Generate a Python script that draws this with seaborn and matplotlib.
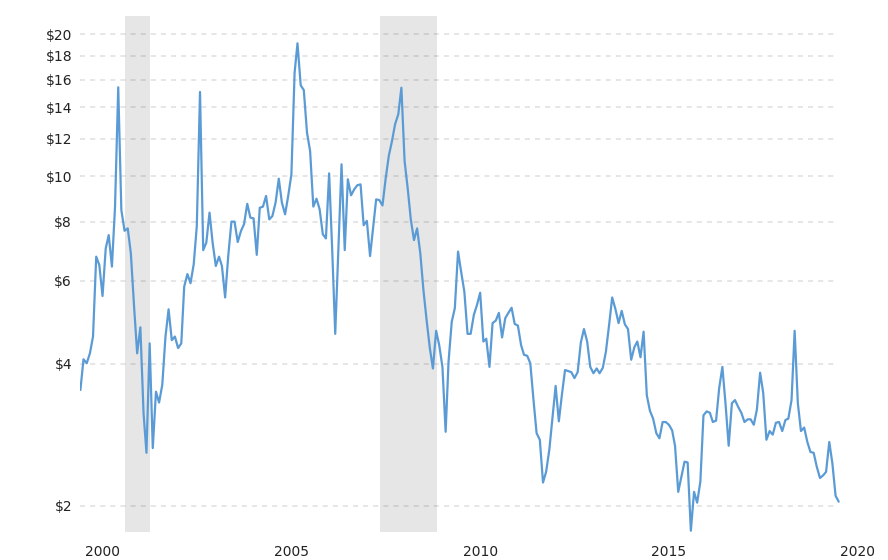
import pandas as pd
import numpy as np
import matplotlib
matplotlib.use("Agg")
import matplotlib.pyplot as plt
import matplotlib.dates as mdates
from matplotlib.ticker import NullLocator, FuncFormatter
import seaborn as sns

# Monthly price ($), Jun 1999 onwards
prices_1999_2002 = [3.52, 4.09, 4.01, 4.21, 4.57, 6.75, 6.48, 5.57, 7.03, 7.50, 6.43, 8.62,
                    15.44, 8.48, 7.66, 7.75, 6.86, 5.30, 4.21, 4.78, 3.14, 2.59, 4.42, 2.65,
                    3.49, 3.31, 3.61, 4.57, 5.22, 4.49, 4.57, 4.32, 4.42, 5.83, 6.20, 5.93]
prices_2002_2005 = [6.50, 7.84, 15.09, 6.97, 7.23, 8.37, 7.23, 6.45, 6.75, 6.45, 5.53, 6.77,
                    8.01, 8.01, 7.25, 7.65, 7.91, 8.74, 8.17, 8.14, 6.81, 8.57, 8.62, 9.08,
                    8.10, 8.23, 8.79, 9.88, 8.79, 8.30, 9.08, 10.09, 16.58, 19.14, 15.59]
prices_2005_2008 = [15.23, 12.37, 11.31, 8.62, 8.96, 8.51, 7.53, 7.38, 10.14, 6.86, 4.63, 7.01,
                    10.60, 6.97, 9.85, 9.11, 9.38, 9.57, 9.61, 7.87, 8.04, 6.77, 7.72, 8.93,
                    8.90, 8.67, 9.85, 11.04, 11.87, 12.89, 13.53, 15.41, 10.77, 9.38, 8.10]
prices_2008_2011 = [7.32, 7.75, 6.86, 5.74, 4.95, 4.32, 3.91, 4.70, 4.38, 3.94, 2.87, 4.04,
                    4.91, 5.25, 6.92, 6.27, 5.69, 4.63, 4.63, 5.08, 5.33, 5.66, 4.46, 4.52,
                    3.94, 4.88, 4.94, 5.13, 4.55, 5.00, 5.13, 5.26, 4.86, 4.82]
prices_2011_2014 = [4.38, 4.18, 4.16, 4.01, 3.35, 2.85, 2.76, 2.24, 2.36, 2.63, 3.06, 3.59,
                    3.02, 3.43, 3.88, 3.86, 3.84, 3.73, 3.84, 4.44, 4.74, 4.46, 3.94, 3.82,
                    3.91, 3.82, 3.92, 4.24, 4.83, 5.53, 5.23, 4.88, 5.18, 4.85, 4.74, 4.08]
prices_2014_2017 = [4.34, 4.46, 4.13, 4.68, 3.43, 3.18, 3.06, 2.85, 2.78, 3.01, 3.01, 2.97,
                    2.89, 2.68, 2.14, 2.30, 2.48, 2.47, 1.77, 2.14, 2.03, 2.25, 3.11, 3.17,
                    3.15, 3.01, 3.03, 3.55, 3.94, 3.30, 2.68, 3.30, 3.35, 3.24, 3.15]
prices_2017_2019 = [3.01, 3.05, 3.05, 2.97, 3.20, 3.83, 3.47, 2.76, 2.88, 2.83, 3.00, 3.01,
                    2.88, 3.04, 3.06, 3.35, 4.70, 3.30, 2.88, 2.93, 2.73, 2.60, 2.59, 2.42,
                    2.29, 2.32, 2.36, 2.73, 2.46, 2.10, 2.04]

prices = (prices_1999_2002 + prices_2002_2005 + prices_2005_2008 + prices_2008_2011
          + prices_2011_2014 + prices_2014_2017 + prices_2017_2019)
months = pd.date_range("1999-06-01", periods=len(prices), freq="MS")

# shaded bands as drawn on the chart
recession_starts = ["2000-08-08", "2007-05-08"]
recession_ends = ["2001-04-05", "2008-11-06"]

y_ticks = [2, 4, 6, 8, 10, 12, 14, 16, 18, 20]
x_tick_years = [2000, 2005, 2010, 2015, 2020]

df = pd.DataFrame({"month": months, "price": prices})

sns.set_style("white")
plt.rcParams["font.family"] = ["DejaVu Sans"]

W, H = 888, 560
fig = plt.figure(figsize=(W / 100, H / 100), dpi=100)
left_px, right_px, top_px, bottom_px = 80.4, 857.7, 16, 532
ax = fig.add_axes([left_px / W, 1 - bottom_px / H,
                   (right_px - left_px) / W, (bottom_px - top_px) / H])

for start, end in zip(recession_starts, recession_ends):
    ax.axvspan(pd.Timestamp(start), pd.Timestamp(end), color="#e6e6e6", lw=0, zorder=0)

# dashed grid stops a little before the right edge
grid_end = (836 - left_px) / (right_px - left_px)
for y in y_ticks:
    ax.axhline(y, xmin=0, xmax=grid_end, color="black", alpha=0.1, lw=1.4,
               linestyle=(0, (2.6, 2.6)), zorder=1)

sns.lineplot(data=df, x="month", y="price", color="#5b9bd5", linewidth=1.6,
             ax=ax, zorder=3)

ax.set_yscale("log")
ax.set_ylim(1.759, 21.87)
ax.set_xlim(pd.Timestamp("1999-06-01"), pd.Timestamp("2020-01-01"))

ax.set_yticks(y_ticks)
ax.yaxis.set_minor_locator(NullLocator())
ax.yaxis.set_major_formatter(FuncFormatter(lambda v, p: f"${v:g}"))

ax.set_xticks([pd.Timestamp(f"{y}-01-01") for y in x_tick_years])
ax.xaxis.set_major_formatter(mdates.DateFormatter("%Y"))

ax.tick_params(axis="y", length=0, pad=6, labelsize=10, labelcolor="#222222")
ax.tick_params(axis="x", length=0, pad=9, labelsize=10, labelcolor="#222222")
ax.set_xlabel("")
ax.set_ylabel("")
for s in ax.spines.values():
    s.set_visible(False)

fig.savefig("out.png", dpi=100)
